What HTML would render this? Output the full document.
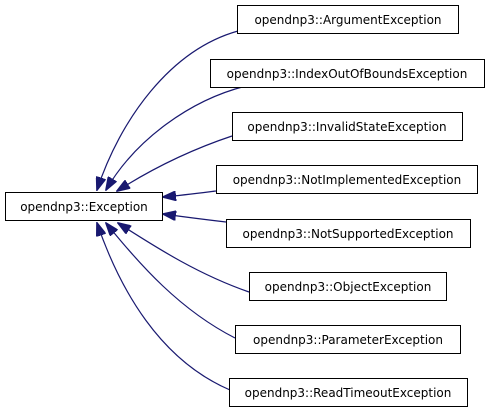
<!DOCTYPE html>
<html><head><style>
body{margin:0;background:#fff;width:491px;height:413px;overflow:hidden}
</style></head><body>
<svg width="491" height="413" xmlns="http://www.w3.org/2000/svg" font-family="DejaVu Sans, Liberation Sans, sans-serif" font-size="12">
<defs><marker id="a" markerWidth="14" markerHeight="10" refX="13" refY="5" orient="auto" markerUnits="userSpaceOnUse"><path d="M0,0 L14,5 L0,10 z" fill="#191970" stroke="#191970"/></marker></defs>
<g fill="none" stroke="#191970" stroke-width="1.2" marker-end="url(#a)">
<path d="M238,31 C170,50 120,120 97,190"/>
<path d="M246,86 C190,100 135,140 106,190"/>
<path d="M232,136 C190,150 150,170 117,191"/>
<path d="M216,191 C200,193 185,195 163,197"/>
<path d="M226,222 C200,219 185,217 163,214"/>
<path d="M249,292 C200,275 160,250 118,223"/>
<path d="M235,338 C180,310 140,265 106,223"/>
<path d="M230,390 C160,360 120,290 97,223"/>
</g>
<g fill="#fff" stroke="#000" stroke-width="1">
<rect x="5.5" y="192.5" width="157" height="28"/>
<rect x="237.5" y="5.5" width="221" height="28"/>
<rect x="210.5" y="59.5" width="274" height="28"/>
<rect x="232.5" y="112.5" width="230" height="28"/>
<rect x="216.5" y="165.5" width="261" height="28"/>
<rect x="226.5" y="219.5" width="244" height="28"/>
<rect x="249.5" y="272.5" width="197" height="28"/>
<rect x="235.5" y="325.5" width="225" height="28"/>
<rect x="229.5" y="378.5" width="238" height="28"/>
</g>
<g fill="#000" text-anchor="middle">
<text x="84" y="211">opendnp3::Exception</text>
<text x="348" y="24">opendnp3::ArgumentException</text>
<text x="347" y="78">opendnp3::IndexOutOfBoundsException</text>
<text x="347" y="131">opendnp3::InvalidStateException</text>
<text x="347" y="184">opendnp3::NotImplementedException</text>
<text x="348" y="238">opendnp3::NotSupportedException</text>
<text x="348" y="291">opendnp3::ObjectException</text>
<text x="348" y="344">opendnp3::ParameterException</text>
<text x="348" y="397">opendnp3::ReadTimeoutException</text>
</g>
</svg>
</body></html>
